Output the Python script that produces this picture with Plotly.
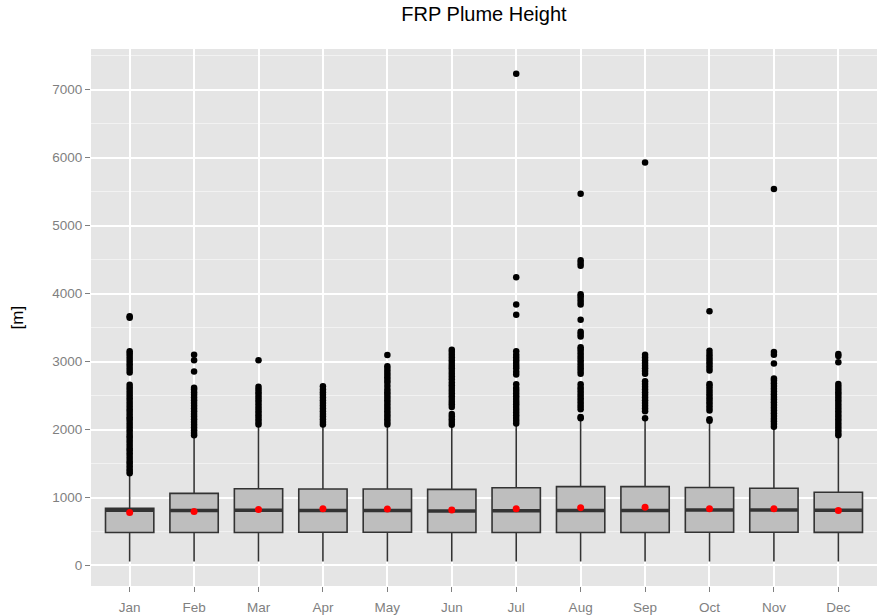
import plotly.graph_objects as go

# Monthly plume-height summary statistics [m]
months = ["Jan", "Feb", "Mar", "Apr", "May", "Jun", "Jul", "Aug", "Sep", "Oct", "Nov", "Dec"]
q1 = [486, 486, 486, 488, 488, 486, 484, 484, 485, 488, 488, 487]
median = [812, 808, 812, 808, 808, 803, 805, 808, 810, 815, 815, 812]
q3 = [841, 1060, 1129, 1124, 1124, 1119, 1143, 1160, 1160, 1148, 1135, 1078]
lower_whisker = [58, 58, 60, 60, 60, 58, 60, 60, 60, 60, 60, 60]
upper_whisker = [1340, 1890, 2045, 2045, 2045, 2045, 2060, 2140, 2140, 2110, 2035, 1890]
mean = [778, 793, 822, 836, 830, 815, 836, 851, 858, 836, 836, 807]

# Outlying observations per month [m]
out_jan = [1355, 1390, 1420, 1460, 1500, 1530, 1570, 1610, 1650, 1690, 1720, 1760, 1800,
           1840, 1880, 1910, 1950, 1990, 2030, 2070, 2110, 2150, 2180, 2220, 2260, 2300,
           2340, 2380, 2420, 2460, 2500, 2540, 2580, 2620, 2660,
           2840, 2880, 2920, 2960, 3000, 3040, 3080, 3120, 3150, 3645, 3665]
out_feb = [1915, 1950, 1990, 2030, 2070, 2110, 2150, 2190, 2230, 2270, 2310, 2350, 2390,
           2430, 2470, 2510, 2550, 2590, 2615, 2855, 3020, 3100]
out_mar = [2075, 2110, 2150, 2190, 2230, 2270, 2310, 2350, 2390, 2430, 2470, 2510, 2550,
           2590, 2630, 3020]
out_apr = [2075, 2110, 2150, 2190, 2230, 2270, 2310, 2350, 2390, 2430, 2470, 2510, 2550,
           2590, 2635]
out_may = [2075, 2110, 2150, 2190, 2230, 2270, 2310, 2350, 2390, 2430, 2470, 2510, 2550,
           2590, 2640, 2690, 2730, 2770, 2810, 2850, 2890, 2930, 3095]
out_jun = [2070, 2110, 2150, 2190, 2230, 2330, 2370, 2410, 2450, 2490, 2530, 2570, 2610,
           2650, 2690, 2740, 2780, 2820, 2860, 2900, 2940, 2980, 3020, 3060, 3100, 3140, 3175]
out_jul = [2090, 2130, 2170, 2210, 2250, 2290, 2330, 2370, 2410, 2450, 2490, 2530, 2570,
           2610, 2665, 2810, 2850, 2900, 2940, 2980, 3020, 3060, 3100, 3150, 3690, 3840,
           4240, 7235]
out_aug = [2165, 2185, 2300, 2340, 2380, 2420, 2460, 2500, 2540, 2580, 2620, 2665,
           2820, 2860, 2900, 2940, 2980, 3020, 3060, 3100, 3140, 3180, 3210, 3370, 3405,
           3440, 3615, 3840, 3880, 3920, 3960, 3990, 4410, 4450, 4490, 5470]
out_sep = [2165, 2270, 2310, 2350, 2390, 2430, 2470, 2510, 2550, 2590, 2630, 2670, 2710,
           2820, 2860, 2900, 2940, 2980, 3020, 3060, 3100, 5930]
out_oct = [2130, 2150, 2280, 2320, 2360, 2400, 2440, 2480, 2520, 2560, 2600, 2640, 2670,
           2870, 2910, 2950, 2990, 3030, 3070, 3110, 3160, 3740]
out_nov = [2040, 2080, 2120, 2160, 2200, 2240, 2280, 2320, 2360, 2400, 2440, 2480, 2520,
           2560, 2600, 2640, 2680, 2720, 2750, 2970, 3100, 3140, 5540]
out_dec = [1915, 1950, 1990, 2030, 2070, 2110, 2150, 2190, 2230, 2270, 2310, 2350, 2390,
           2430, 2470, 2510, 2550, 2590, 2630, 2670, 2990, 3080, 3110]

outliers = [out_jan, out_feb, out_mar, out_apr, out_may, out_jun,
            out_jul, out_aug, out_sep, out_oct, out_nov, out_dec]
out_x = [m for m, vals in zip(months, outliers) for _ in vals]
out_y = [v for vals in outliers for v in vals]

fig = go.Figure()

fig.add_trace(go.Box(
    x=months, q1=q1, median=median, q3=q3,
    lowerfence=lower_whisker, upperfence=upper_whisker,
    boxpoints=False, whiskerwidth=0, width=0.75,
    fillcolor="#bebebe",
    line=dict(color="#333333", width=1.6),
    hoverinfo="skip", showlegend=False,
))

# thicker median bar drawn over each box
fig.add_trace(go.Scatter(
    x=months, y=median, mode="markers",
    marker=dict(symbol="line-ew", size=34.2,
                line=dict(color="#333333", width=3.5)),
    hoverinfo="skip", showlegend=False,
))

fig.add_trace(go.Scatter(
    x=out_x, y=out_y, mode="markers",
    marker=dict(color="black", size=6.5, line=dict(width=0)),
    hoverinfo="skip", showlegend=False,
))

fig.add_trace(go.Scatter(
    x=months, y=mean, mode="markers",
    marker=dict(color="#ff0000", size=7, line=dict(width=0)),
    hoverinfo="skip", showlegend=False,
))

tick_font = dict(family="Liberation Sans, Arial, sans-serif", size=13.5, color="#7f7f7f")

fig.update_layout(
    width=878, height=616,
    margin=dict(l=91, r=1, t=49, b=26),
    paper_bgcolor="white",
    plot_bgcolor="#e5e5e5",
    title=dict(text="FRP Plume Height", x=0.5, xref="paper", xanchor="center",
               y=1 - 14 / 616, yref="container", yanchor="middle",
               font=dict(family="Liberation Sans, Arial, sans-serif", size=20, color="black")),
    xaxis=dict(
        type="category", categoryorder="array", categoryarray=months,
        range=[-0.6, 11.6],
        showgrid=True, gridcolor="white", gridwidth=1.7,
        ticks="outside", ticklen=5, tickwidth=1.2, tickcolor="#7f7f7f",
        tickfont=tick_font, showline=False, zeroline=False,
        ticklabelstandoff=4,
    ),
    yaxis=dict(
        range=[-302, 7598],
        tickvals=[0, 1000, 2000, 3000, 4000, 5000, 6000, 7000],
        showgrid=True, gridcolor="white", gridwidth=1.7,
        minor=dict(tickvals=[500, 1500, 2500, 3500, 4500, 5500, 6500, 7500],
                   showgrid=True, gridcolor="#f2f2f2", gridwidth=0.8, ticks=""),
        ticks="outside", ticklen=5, tickwidth=1.2, tickcolor="#7f7f7f",
        tickfont=tick_font, showline=False, zeroline=False,
    ),
    annotations=[dict(
        text="[m]", textangle=-90, xref="paper", yref="paper",
        x=(17 - 91) / 786, y=0.5, xanchor="center", yanchor="middle",
        showarrow=False,
        font=dict(family="Liberation Sans, Arial, sans-serif", size=17, color="black"),
    )],
)

fig.write_html("out.html")
